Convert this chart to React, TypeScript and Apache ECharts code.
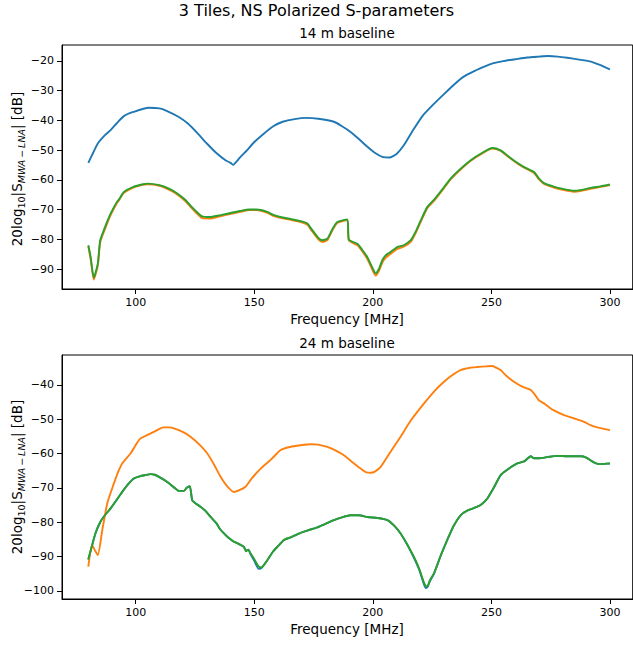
import React, { useEffect, useRef } from "react";
import * as echarts from "echarts";

// ---------- 14 m baseline ----------
const top14BlueFreq = [80, 82, 84, 87, 89.4, 92, 95, 99, 105.5, 110, 113, 118, 122, 126, 130, 134, 138, 140, 141, 142, 144, 147, 150, 154, 158, 162, 167, 172, 177, 183.6, 187, 190.6, 194, 197.7, 201, 204, 207, 210, 213, 217, 221, 226, 230, 234, 238, 243, 247, 250.5, 255, 260, 265, 270, 274, 278, 282, 287, 292, 296, 300];
const top14BlueVal = [-54.3, -51, -47.8, -45, -43.3, -41, -38.6, -37.2, -35.8, -36.0, -36.8, -38.8, -41.1, -44.3, -47.8, -51, -53.5, -54.3, -55, -54.3, -52.5, -50, -47.3, -44.5, -42.0, -40.5, -39.6, -39.2, -39.5, -40.5, -42, -43.9, -46.2, -48.9, -51.0, -52.3, -52.5, -51.3, -48.5, -43.3, -38.5, -34.3, -31.2, -28.2, -25.5, -23.4, -22.0, -20.9, -20.1, -19.5, -18.9, -18.6, -18.4, -18.6, -19.0, -19.6, -20.3, -21.5, -22.9];

const top14LowFreq = [80, 81, 82.3, 84, 85, 87, 89.4, 92, 93, 95, 99, 103, 105, 110, 114, 117.5, 121, 123, 126, 128, 131, 135, 138.6, 144, 148, 151, 155.5, 158, 161, 166, 170, 172.4, 174, 177, 178.7, 180.8, 183, 185, 189.2, 189.9, 193.5, 195.5, 197.7, 199.5, 201.2, 202.6, 204, 205.4, 207, 210.3, 213, 216, 218, 220, 223, 226, 230, 232.8, 236, 241.3, 246, 250.4, 253.9, 257, 260.9, 264, 268, 270, 272.2, 276, 279.2, 284.8, 288, 291.9, 296, 300];
const top14OrangeVal = [-82.4, -86.8, -93.5, -88.8, -81.0, -76.6, -71.9, -67.9, -66.8, -64.4, -62.6, -61.7, -61.5, -62.0, -63.3, -64.9, -67.2, -69.0, -71.5, -72.9, -73.0, -72.4, -71.7, -70.8, -70.2, -70.2, -71.1, -72.1, -72.8, -73.6, -74.3, -75.1, -76.9, -80.0, -80.9, -80.3, -76.9, -74.5, -73.5, -80.4, -82.0, -84.0, -86.6, -89.7, -92.2, -90.6, -87.8, -86.2, -85.2, -83.2, -82.5, -80.9, -78.0, -74.5, -69.5, -66.9, -62.8, -59.9, -57.3, -53.6, -51.2, -49.5, -50.3, -52.2, -54.5, -56.0, -57.7, -59.8, -61.4, -62.5, -63.2, -64.0, -63.7, -63.0, -62.4, -61.8];
const top14GreenVal = [-82.0, -86.0, -92.9, -88.2, -80.4, -76.0, -71.4, -67.5, -66.5, -64.1, -62.4, -61.5, -61.3, -61.8, -63.0, -64.6, -66.8, -68.6, -71.0, -72.3, -72.5, -72.0, -71.4, -70.5, -70.0, -70.0, -70.8, -71.8, -72.5, -73.3, -74.0, -74.7, -76.4, -79.5, -80.3, -79.8, -76.5, -74.2, -73.3, -80.1, -81.5, -83.5, -86.0, -89.0, -91.4, -89.9, -87.0, -85.4, -84.5, -82.6, -82.0, -80.3, -77.5, -74.0, -69.1, -66.5, -62.5, -59.6, -57.0, -53.4, -51.0, -49.3, -50.1, -52.0, -54.3, -55.8, -57.4, -59.5, -61.1, -62.2, -62.9, -63.7, -63.4, -62.7, -62.2, -61.6];

// ---------- 24 m baseline ----------
const bot24OrangeFreq = [80, 81.6, 83, 84, 85.9, 88, 90.8, 92.5, 94.3, 97.8, 100, 102, 105, 107.6, 110, 112, 114, 116.1, 120, 123.1, 127, 130.2, 133, 135.8, 138.5, 141.4, 144, 146.3, 149, 152.7, 157, 161.1, 165, 169.5, 173.8, 177, 180.8, 184, 187.8, 191, 194.9, 197, 199.1, 201, 203.3, 207, 211.7, 216, 221.6, 226, 230, 233, 237, 241, 244.1, 248, 250.4, 252, 253.9, 256.5, 259.5, 263, 266.6, 268.5, 270, 272.2, 276, 280.6, 285, 289.1, 292, 296, 300];
const bot24OrangeVal = [-93.0, -86.7, -88.5, -89.6, -82.3, -74.5, -68.7, -65.5, -62.9, -60.0, -57.5, -55.6, -54.6, -53.7, -52.8, -52.4, -52.4, -52.7, -53.8, -55.1, -57.5, -60.0, -63.2, -66.8, -69.5, -71.2, -70.6, -69.7, -67.2, -64.4, -61.8, -59.0, -58.1, -57.6, -57.3, -57.4, -58.1, -59.0, -60.5, -62.3, -64.4, -65.4, -65.6, -65.2, -63.9, -60.0, -55.1, -50.4, -45.4, -41.8, -39.1, -37.4, -35.7, -35.0, -34.8, -34.6, -34.5, -35.0, -35.7, -37.5, -39.1, -40.5, -41.5, -43.0, -44.5, -45.4, -47.3, -48.8, -49.8, -50.8, -51.8, -52.6, -53.2];

const bot24LowFreq = [80, 81.5, 83, 85.1, 87, 89.4, 92, 94.3, 97, 99.2, 102, 104, 106.2, 108, 110, 113.3, 116, 118.2, 120.3, 121.5, 122.8, 123.8, 125, 127.3, 129.5, 131.6, 134, 135.5, 137.2, 139, 141.4, 143, 145.6, 146.5, 147.5, 148.4, 150, 151.9, 153, 155.5, 158, 160, 162.5, 165, 169.5, 173, 176.6, 180, 183.6, 187, 190.6, 194, 197.7, 202, 206.1, 209, 211.7, 214.5, 217.3, 219.5, 221.5, 222.3, 223, 224, 225.8, 228.5, 231.4, 234, 237, 240, 244.1, 246, 248.3, 251, 253.9, 257, 260.9, 264, 266.6, 268, 270.1, 274, 277.8, 282, 287.7, 290, 293, 295.4, 298, 300];
const bot24BlueVal = [-90.9, -87.0, -83.3, -79.9, -78.0, -76.0, -73.5, -71.2, -68.8, -67.3, -66.6, -66.3, -66.0, -66.2, -66.9, -68.3, -69.8, -70.9, -70.9, -70.0, -69.5, -73.6, -74.4, -75.5, -76.8, -78.5, -80.3, -82.0, -83.3, -84.5, -85.7, -86.2, -87.2, -88.3, -88.0, -89.3, -91.3, -93.6, -93.4, -91.1, -88.5, -87.0, -85.2, -84.5, -83.1, -82.3, -81.5, -80.5, -79.4, -78.6, -78.0, -78.0, -78.5, -78.8, -79.4, -81.0, -83.3, -86.5, -90.3, -93.8, -98.0, -99.2, -99.0, -97.3, -95.0, -90.0, -85.2, -81.2, -78.0, -76.6, -75.5, -74.7, -73.1, -70.0, -66.3, -64.6, -62.9, -62.2, -60.8, -61.4, -61.4, -61.0, -60.7, -60.8, -60.8, -61.2, -62.5, -63.1, -63.0, -62.9];
const bot24GreenVal = [-90.9, -87.0, -83.3, -79.9, -78.0, -76.0, -73.5, -71.2, -68.8, -67.3, -66.6, -66.3, -66.0, -66.2, -66.9, -68.3, -69.8, -70.9, -70.9, -70.0, -69.5, -73.6, -74.4, -75.5, -76.8, -78.5, -80.3, -82.0, -83.3, -84.5, -85.7, -86.2, -87.2, -88.5, -88.0, -89.1, -90.8, -93.0, -93.2, -91.1, -88.5, -87.0, -85.2, -84.5, -83.1, -82.3, -81.5, -80.5, -79.4, -78.6, -78.0, -78.0, -78.5, -78.8, -79.4, -81.0, -83.3, -86.5, -90.1, -93.5, -97.5, -98.6, -98.8, -97.0, -94.9, -90.0, -85.2, -81.2, -78.0, -76.6, -75.5, -74.7, -73.1, -70.0, -66.3, -64.6, -62.9, -62.2, -60.8, -61.4, -61.4, -61.0, -60.7, -60.8, -60.8, -61.2, -62.5, -63.1, -63.0, -62.9];

const xTicks = [100, 150, 200, 250, 300];
const yTicksTop = [-90, -80, -70, -60, -50, -40, -30, -20];
const yTicksBot = [-100, -90, -80, -70, -60, -50, -40];

const BLUE = "#1f77b4";
const ORANGE = "#ff7f0e";
const GREEN = "#2ca02c";
const FONT = "DejaVu Sans";

const zip = (f: number[], v: number[]) => f.map((x, i) => [x, v[i]]);

export default function App() {
  const ref = useRef<HTMLDivElement>(null);
  useEffect(() => {
    if (!ref.current) return;
    const chart = echarts.init(ref.current, undefined, { renderer: "svg" });

    const mkX = (idx: number) => ({
      type: "value",
      gridIndex: idx,
      min: 68.9,
      max: 309.6,
      axisLine: { show: true, onZero: false, lineStyle: { color: "#000", width: 1 } },
      axisTick: { show: true, inside: false, length: 5, customValues: xTicks, lineStyle: { color: "#000", width: 1 } },
      axisLabel: { show: true, customValues: xTicks, margin: 8, fontSize: 11, color: "#000", fontFamily: FONT },
      splitLine: { show: false },
    });
    const mkY = (idx: number, min: number, max: number, ticks: number[]) => ({
      type: "value",
      gridIndex: idx,
      min,
      max,
      axisLine: { show: true, onZero: false, lineStyle: { color: "#000", width: 1 } },
      axisTick: { show: true, inside: false, length: 5, customValues: ticks, lineStyle: { color: "#000", width: 1 } },
      axisLabel: {
        show: true,
        customValues: ticks,
        margin: 8,
        fontSize: 11,
        color: "#000",
        fontFamily: FONT,
        formatter: (v: number) => String(v).replace("-", "\u2212"),
      },
      splitLine: { show: false },
    });
    const mkLine = (name: string, data: number[][], color: string, idx: number) => ({
      name,
      type: "line",
      xAxisIndex: idx,
      yAxisIndex: idx,
      data,
      showSymbol: false,
      smooth: 0.2,
      lineStyle: { color, width: 1.9 },
      itemStyle: { color },
      z: 2,
    });

    const yLabel = (y: number) => ({
      type: "text",
      x: 17,
      y,
      rotation: Math.PI / 2,
      style: {
        text: "20log{s|10}|S{si|MWA\u2009\u2212\u2009LNA}| [dB]",
        fontSize: 13.5,
        fontFamily: FONT,
        fill: "#000",
        align: "center",
        verticalAlign: "middle",
        lineHeight: 18,
        rich: {
          s: { fontSize: 9.5, fontFamily: FONT, fill: "#000", verticalAlign: "bottom", lineHeight: 9 },
          si: { fontSize: 9.5, fontFamily: FONT, fontStyle: "italic", fill: "#000", verticalAlign: "bottom", lineHeight: 9 },
        },
      },
    });
    const txt = (text: string, x: number, y: number, size: number) => ({
      type: "text",
      x,
      y,
      style: { text, fontSize: size, fontFamily: FONT, fill: "#000", align: "center", verticalAlign: "middle" },
    });

    chart.setOption({
      animation: false,
      backgroundColor: "#fff",
      grid: [
        { left: 62, top: 45, width: 570.7, height: 244, show: true, borderColor: "#000", borderWidth: 1, backgroundColor: "transparent" },
        { left: 62, top: 355, width: 570.7, height: 244, show: true, borderColor: "#000", borderWidth: 1, backgroundColor: "transparent" },
      ],
      xAxis: [mkX(0), mkX(1)],
      yAxis: [mkY(0, -96.7, -14.7, yTicksTop), mkY(1, -102.4, -31.3, yTicksBot)],
      series: [
        mkLine("blue14", zip(top14BlueFreq, top14BlueVal), BLUE, 0),
        mkLine("orange14", zip(top14LowFreq, top14OrangeVal), ORANGE, 0),
        mkLine("green14", zip(top14LowFreq, top14GreenVal), GREEN, 0),
        mkLine("blue24", zip(bot24LowFreq, bot24BlueVal), BLUE, 1),
        mkLine("orange24", zip(bot24OrangeFreq, bot24OrangeVal), ORANGE, 1),
        mkLine("green24", zip(bot24LowFreq, bot24GreenVal), GREEN, 1),
      ],
      graphic: [
        txt("3 Tiles, NS Polarized S-parameters", 316.5, 10, 16),
        txt("14 m baseline", 347, 33, 13.5),
        txt("24 m baseline", 347, 343, 13.5),
        txt("Frequency [MHz]", 347, 318.5, 13.5),
        txt("Frequency [MHz]", 347, 628.5, 13.5),
        yLabel(169),
        yLabel(477),
      ],
    });
    return () => chart.dispose();
  }, []);
  return <div ref={ref} style={{ position: "fixed", left: 0, top: 0, width: 633, height: 646 }} />;
}
